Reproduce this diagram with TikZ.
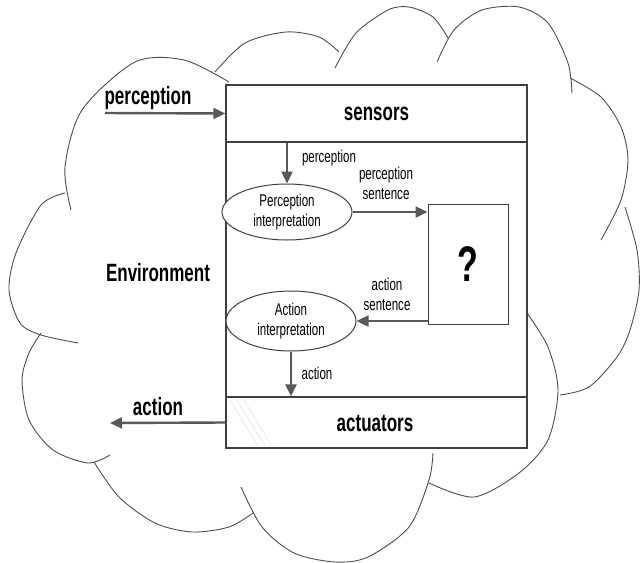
\documentclass[tikz,border=0pt]{standalone}
\usepackage{fontspec}
\setmainfont[FakeStretch=0.68]{Liberation Sans}
\usetikzlibrary{arrows.meta,shapes.geometric}
\definecolor{cloudgray}{HTML}{4D4D4D}
\definecolor{boxgray}{HTML}{404040}
\definecolor{arrowgray}{HTML}{595959}
\begin{document}
\begin{tikzpicture}[x=1pt,y=-1pt,
  lobe/.style={draw=cloudgray, line width=0.9pt},
  panel/.style={draw=boxgray, line width=1.4pt, fill=white, inner sep=0pt},
  flow/.style={draw=arrowgray, line width=2.4pt, -{Triangle[length=12pt,width=11pt]}},
  big/.style={font=\fontsize{25}{30}\selectfont\bfseries, inner sep=0pt},
  small/.style={font=\fontsize{17}{20}\selectfont, align=center, inner sep=0pt},
  oval/.style={ellipse, draw=boxgray, line width=1pt, fill=white, inner sep=0pt,
    font=\fontsize{17}{20}\selectfont, align=center}]
\useasboundingbox (0,0) rectangle (641,563);

% environment cloud, one lobe per path
\draw[lobe] plot[smooth] coordinates {(71,210) (65,167) (82,110) (135,62) (184,60) (229,82)};
\draw[lobe] plot[smooth] coordinates {(215,72) (245,43) (286,32) (319,37) (339,52)};
\draw[lobe] plot[smooth] coordinates {(335,68) (356,33) (388,10) (409,7) (433,17) (448,38)};
\draw[lobe] plot[smooth] coordinates {(437,62) (454,30) (482,10) (519,7) (548,23) (568,63) (572,93)};
\draw[lobe] plot[smooth] coordinates {(570,78) (601,97) (621,127) (628,160) (621,200) (601,240)};
\draw[lobe] plot[smooth] coordinates {(625,207) (637,250) (639,290) (630,330) (617,357) (589,387) (560,395)};
\draw[lobe] plot[smooth] coordinates {(527,313) (548,347) (558,390) (548,440) (519,473) (474,497) (429,483)};
\draw[lobe] plot[smooth] coordinates {(433,453) (429,480) (409,527) (368,557) (335,562) (294,553) (262,527) (241,487)};
\draw[lobe] plot[smooth] coordinates {(253,513) (229,527) (192,532) (155,523) (119,497) (94,462)};
\draw[lobe] plot[smooth] coordinates {(110,455) (88,463) (53,450) (29,420) (22,380) (29,353) (41,333)};
\draw[lobe] plot[smooth] coordinates {(65,193) (41,205) (16,253) (9,290) (20,323) (41,335) (78,343)};

% agent
\node[panel, minimum width=301, minimum height=255] (body) at (376.5,269.5) {};
\node[panel, big, minimum width=301, minimum height=57] (sensors) at (376.5,113.5) {sensors};
\node[panel, minimum width=301, minimum height=51] (act) at (376.5,422.5) {};
\draw[black!7, line width=1pt] (230,400) -- (258,446) (237,400) -- (265,446) (244,400) -- (272,446);
\node[big] (actlabel) at (375,423) {actuators};

\node[oval, minimum width=130, minimum height=56] (pint) at (287,212) {Perception\\interpretation};
\node[oval, minimum width=130, minimum height=60] (aint) at (291,321) {Action\\interpretation};
\node[draw=boxgray, line width=1pt, fill=white, minimum width=80, minimum height=120,
  inner sep=0pt, font=\fontsize{50}{50}\selectfont\bfseries] (q) at (468,264) {?};

% flows inside the agent
\draw[flow] (sensors.south -| pint.north) -- (pint.north);
\draw[flow] (pint.east) -- (q.west |- pint.east);
\draw[flow] (q.west |- aint.east) -- (aint.east);
\draw[flow] (aint.south) -- (act.north -| aint.south);

\node[small] (lp) at (329,158) {perception};
\node[small] (lps) at (386,183) {perception\\sentence};
\node[small] (las) at (387,294) {action\\sentence};
\node[small] (la) at (317,373) {action};

% exchange with the environment
\coordinate (pin) at (105,113);
\coordinate (aout) at (110,423);
\draw[flow] (pin) -- (sensors.west);
\draw[flow] (act.west) -- (aout);
\node[big] (pout) at (148,98) {perception};
\node[big] (aoutlabel) at (158,407) {action};
\node[big] (env) at (158,273) {Environment};
\end{tikzpicture}
\end{document}
